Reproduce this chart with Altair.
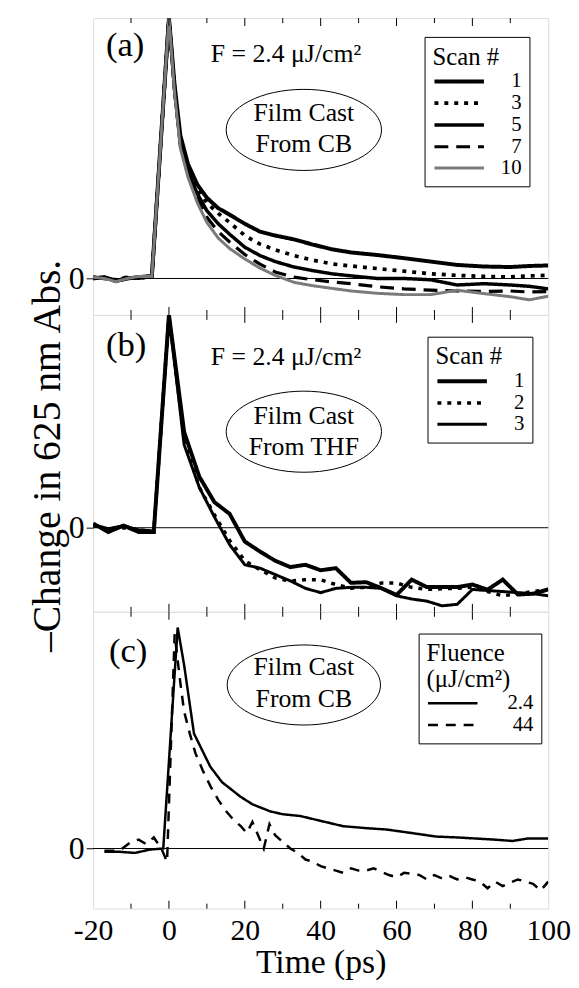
import altair as alt
import pandas as pd

FONT = "Liberation Serif, Tinos, Times New Roman, DejaVu Serif, Noto Serif, serif"

# ---------------- data ----------------
# Panel (a): film cast from CB, F = 2.4 uJ/cm2, successive scans
A_TIME = [-20, -17, -14, -11, -8, -4.5, 0, 1.5, 3, 5, 7.5, 10, 13, 16, 20, 24, 28,
          33, 38, 43, 48, 55, 62, 69, 76, 83, 90, 95, 100]
A_NAMES = ["1", "3", "5", "7", "10"]
A_SCAN_1 = [0.0, 0.005, -0.01, 0.0, 0.005, 0.01, 1.0, 0.74, 0.55, 0.44, 0.36, 0.31, 0.27,
            0.245, 0.21, 0.18, 0.165, 0.15, 0.13, 0.112, 0.10, 0.09, 0.078, 0.065, 0.052,
            0.046, 0.044, 0.048, 0.05]
A_SCAN_3 = [0.005, 0.0, -0.005, 0.005, 0.0, 0.01, 1.0, 0.73, 0.53, 0.42, 0.345, 0.29, 0.25,
            0.215, 0.165, 0.132, 0.11, 0.088, 0.07, 0.056, 0.048, 0.038, 0.028, 0.018,
            0.012, 0.008, 0.006, 0.01, 0.012]
A_SCAN_5 = [0.0, 0.005, -0.008, 0.0, 0.005, 0.005, 1.0, 0.72, 0.52, 0.41, 0.325, 0.26, 0.21,
            0.17, 0.12, 0.088, 0.065, 0.044, 0.03, 0.018, 0.01, 0.0, 0.0, -0.005, -0.025,
            -0.02, -0.025, -0.03, -0.04]
A_SCAN_7 = [0.005, 0.0, -0.01, 0.005, 0.0, 0.008, 1.0, 0.72, 0.51, 0.40, 0.305, 0.235, 0.18,
            0.14, 0.092, 0.055, 0.025, 0.005, -0.005, -0.013, -0.02, -0.032, -0.04, -0.045,
            -0.048, -0.05, -0.048, -0.052, -0.05]
A_SCAN_10 = [0.005, 0.0, -0.012, 0.0, 0.008, 0.008, 1.0, 0.71, 0.50, 0.39, 0.29, 0.215, 0.155,
             0.115, 0.075, 0.04, 0.012, -0.015, -0.028, -0.038, -0.048, -0.057, -0.062,
             -0.062, -0.045, -0.058, -0.07, -0.082, -0.068]

# Panel (b): film cast from THF
B_TIME = [-20, -16, -12, -8, -4, 0, 4, 8, 12, 16, 20, 24, 28, 32, 36, 40, 44, 48, 52, 56,
          60, 64, 68, 72, 76, 80, 84, 88, 92, 96, 100]
B_NAMES = ["1", "2", "3"]
B_SCAN_1 = [0.02, -0.02, 0.01, -0.02, -0.02, 1.0, 0.45, 0.24, 0.12, 0.065, -0.065, -0.112,
            -0.155, -0.185, -0.174, -0.2, -0.19, -0.259, -0.256, -0.284, -0.316, -0.244,
            -0.279, -0.279, -0.279, -0.267, -0.291, -0.244, -0.314, -0.31, -0.29]
B_SCAN_2 = [0.01, -0.01, 0.0, -0.01, -0.02, 1.0, 0.42, 0.19, 0.06, -0.06, -0.155, -0.197,
            -0.236, -0.251, -0.244, -0.245, -0.267, -0.284, -0.28, -0.26, -0.26, -0.28,
            -0.29, -0.287, -0.285, -0.28, -0.30, -0.32, -0.31, -0.30, -0.29]
B_SCAN_3 = [0.015, -0.005, 0.01, -0.01, -0.015, 1.0, 0.39, 0.19, 0.05, -0.08, -0.174, -0.19,
            -0.22, -0.25, -0.285, -0.305, -0.285, -0.28, -0.28, -0.285, -0.32, -0.335,
            -0.345, -0.367, -0.36, -0.29, -0.295, -0.30, -0.305, -0.31, -0.32]

# Panel (c): film cast from CB, two fluences
C_NAMES = ["2.4", "44"]
C_TIME_24 = [-17, -13, -9, -5, -1.5, 2.3, 4, 6.6, 10.9, 14, 18.8, 22, 26.7, 30, 34.6, 40,
             45.9, 52, 57.3, 64, 70.4, 76, 81, 86, 90.6, 94.5, 100]
C_VAL_24 = [-0.015, -0.015, -0.02, -0.005, 0.0, 1.0, 0.83, 0.52, 0.37, 0.3, 0.235, 0.2,
            0.168, 0.155, 0.147, 0.125, 0.101, 0.092, 0.086, 0.07, 0.054, 0.05, 0.045, 0.04,
            0.034, 0.045, 0.045]
C_TIME_44 = [-17, -13, -10, -8, -6, -4, -2, -0.5, 1.5, 3, 4, 5.5, 7, 9, 11, 13, 15, 17, 19,
             20.5, 22, 23.5, 25, 26.5, 28, 30, 32, 34, 36, 38, 40, 42, 44, 46, 48, 50, 52,
             54, 56, 58, 60, 62, 64, 66, 68, 70, 72, 74, 76, 78, 80, 82, 84, 86, 88, 90, 92,
             94, 96, 98, 100]
C_VAL_44 = [-0.01, -0.01, 0.03, 0.04, 0.02, 0.05, 0.0, -0.06, 0.97, 0.75, 0.62, 0.52, 0.43,
            0.35, 0.28, 0.22, 0.17, 0.13, 0.10, 0.07, 0.12, 0.06, 0.0, 0.11, 0.06, 0.03, 0.0,
            -0.02, -0.05, -0.06, -0.08, -0.09, -0.1, -0.11, -0.09, -0.1, -0.1, -0.09, -0.105,
            -0.12, -0.13, -0.11, -0.115, -0.12, -0.14, -0.12, -0.135, -0.125, -0.14, -0.13,
            -0.14, -0.15, -0.18, -0.15, -0.17, -0.155, -0.14, -0.15, -0.16, -0.19, -0.15]

X_LABELS = [-20, 0, 20, 40, 60, 80, 100]
X_TICKS = [-10, 0, 10, 20, 30, 40, 50, 60, 70, 80, 90]

# ---------------- layout / style ----------------
W, H = 460, 300
X_SCALE = alt.Scale(domain=[-20, 100], nice=False, zero=False)
ELLIPSE = "M-1,0A1,0.522,0,1,0,1,0A1,0.522,0,1,0,-1,0Z"
LEG_LINE = "M-2.5,0H2.5"
ONE = pd.DataFrame({"k": [0]})


def long_df(times_list, values_list, names):
    rows = []
    for i, (ts, vs, nm) in enumerate(zip(times_list, values_list, names)):
        for t, v in zip(ts, vs):
            rows.append({"time": t, "value": v, "series": nm, "ord": i})
    return pd.DataFrame(rows)


def tick_layers(x_axis):
    df = pd.DataFrame({"tick": X_TICKS})
    base = alt.Chart(df).mark_rule(color="black", strokeWidth=1)
    x = alt.X("tick:Q", scale=X_SCALE, axis=x_axis)
    major = "datum.tick % 20 == 0"
    minor = "datum.tick % 20 != 0"
    return [
        base.transform_filter(major).encode(x=x, y=alt.value(0), y2=alt.value(8)),
        base.transform_filter(minor).encode(x=x, y=alt.value(0), y2=alt.value(5)),
        base.transform_filter(major).encode(x=x, y=alt.value(H), y2=alt.value(H - 8)),
        base.transform_filter(minor).encode(x=x, y=alt.value(H), y2=alt.value(H - 5)),
    ]


def text_layer(txt, x, y, size, align="left", line_height=None):
    kw = dict(text=txt, font=FONT, fontSize=size, align=align, baseline="alphabetic",
              color="black")
    if line_height:
        kw["lineHeight"] = line_height
    return alt.Chart(ONE).mark_text(**kw).encode(x=alt.value(x), y=alt.value(y))


def ellipse_layer(x, y, w):
    return alt.Chart(ONE).mark_point(shape=ELLIPSE, size=w * w, filled=False,
                                     stroke="black", strokeWidth=1, opacity=1).encode(
        x=alt.value(x), y=alt.value(y))


def panel(df, names, colors, dashes, widths, ydom, legend, annotations,
          x_axis=None, y_title=None):
    y_axis_kw = dict(values=[0], grid=False, domain=False, tickSize=7, tickColor="black",
                     labelFont=FONT, labelFontSize=32, labelColor="black", labelPadding=2,
                     labelExpr="'0'")
    if y_title:
        y_axis_kw.update(title=y_title, titleFont=FONT, titleFontSize=40,
                         titleFontWeight="normal", titleColor="black", titleAngle=270,
                         titleAlign="center", titleBaseline="alphabetic",
                         titleX=-34, titleY=142)
    else:
        y_axis_kw.update(title=None)
    y_axis = alt.Axis(**y_axis_kw)

    zero = alt.Chart(ONE).mark_rule(color="black", strokeWidth=1).encode(y=alt.datum(0))

    lines = alt.Chart(df).mark_line(clip=True).encode(
        x=alt.X("time:Q", scale=X_SCALE, axis=x_axis),
        y=alt.Y("value:Q", scale=alt.Scale(domain=ydom, nice=False, zero=False),
                axis=y_axis),
        color=alt.Color("series:N", scale=alt.Scale(domain=names, range=colors),
                        legend=legend),
        strokeDash=alt.StrokeDash("series:N", scale=alt.Scale(domain=names, range=dashes),
                                  legend=legend),
        strokeWidth=alt.StrokeWidth("series:N", scale=alt.Scale(domain=names, range=widths),
                                    legend=legend),
        order=alt.Order("ord:Q"),
    )
    return alt.layer(zero, lines, *annotations, *tick_layers(x_axis)).properties(
        width=W, height=H)


def make_legend(title, lx, ly, label_offset=50):
    return alt.Legend(orient="none", legendX=lx, legendY=ly, title=title,
                      titleFont=FONT, titleFontSize=25, titleFontWeight="normal",
                      titleColor="black", titlePadding=0, titleLineHeight=26,
                      labelFont=FONT, labelFontSize=21, labelColor="black",
                      labelAlign="right", labelOffset=label_offset, symbolType=LEG_LINE,
                      symbolSize=400, symbolOffset=15, strokeColor="black",
                      fillColor="white", padding=8, rowPadding=0, cornerRadius=0,
                      titleLimit=0)


# ---- panel (a)
df_a = long_df([A_TIME] * 5, [A_SCAN_1, A_SCAN_3, A_SCAN_5, A_SCAN_7, A_SCAN_10], A_NAMES)
pa = panel(
    df_a, A_NAMES,
    colors=["black", "black", "black", "black", "#7a7a7a"],
    dashes=[[1, 0], [4, 6], [1, 0], [14, 8], [1, 0]],
    widths=[4, 3, 1, 3, 3],
    ydom=[-0.14, 1.0],
    legend=make_legend("Scan #", 335, 19, label_offset=51),
    annotations=[
        text_layer("(a)", 13, 38, 35),
        text_layer("F = 2.4 \u03bcJ/cm\u00b2", 119, 44, 26),
        ellipse_layer(213, 113, 157),
        text_layer(["Film Cast", "From CB"], 213, 104, 26, align="center", line_height=31),
    ],
)

# ---- panel (b)
df_b = long_df([B_TIME] * 3, [B_SCAN_1, B_SCAN_2, B_SCAN_3], B_NAMES)
pb = panel(
    df_b, B_NAMES,
    colors=["black", "black", "black"],
    dashes=[[1, 0], [4, 6], [1, 0]],
    widths=[4, 3, 1],
    ydom=[-0.395, 1.0],
    legend=make_legend("Scan #", 338, 22, label_offset=51),
    annotations=[
        text_layer("(b)", 13, 42, 35),
        text_layer("F = 2.4 \u03bcJ/cm\u00b2", 119, 51, 26),
        ellipse_layer(213, 118, 157),
        text_layer(["Film Cast", "From THF"], 213, 110, 26, align="center", line_height=32),
    ],
    y_title="\u2013Change in 625 nm Abs.",
)

# ---- panel (c)
df_c = long_df([C_TIME_24, C_TIME_44], [C_VAL_24, C_VAL_44], C_NAMES)
x_axis_c = alt.Axis(values=X_LABELS, ticks=False, domain=False, grid=False,
                    labelFont=FONT, labelFontSize=30, labelColor="black", labelPadding=7,
                    labelExpr="'' + datum.value", labelFlush=False, labelOverlap=False,
                    title="Time (ps)", titleFont=FONT, titleFontSize=34,
                    titleFontWeight="normal", titleColor="black", titlePadding=1)
pc = panel(
    df_c, C_NAMES,
    colors=["black", "black"],
    dashes=[[1, 0], [10, 8]],
    widths=[2.5, 2.5],
    ydom=[-0.272, 1.071],
    legend=make_legend(["Fluence", "(\u03bcJ/cm\u00b2)"], 329, 22, label_offset=70),
    annotations=[
        text_layer("(c)", 16, 51, 35),
        ellipse_layer(213, 74, 155),
        text_layer(["Film Cast", "From CB"], 213, 64, 26, align="center", line_height=32),
    ],
    x_axis=x_axis_c,
)

chart = (
    alt.vconcat(pa, pb, pc, spacing=0, bounds="flush")
    .resolve_scale(y="independent", color="independent", strokeDash="independent",
                   strokeWidth="independent")
    .properties(padding={"left": 19, "top": 4, "right": 0, "bottom": 0})
    .configure_view(stroke="black", strokeWidth=1.5)
    .configure(font=FONT, background="white")
)

chart.save("out.html", embed_options={"renderer": "svg", "actions": False})
